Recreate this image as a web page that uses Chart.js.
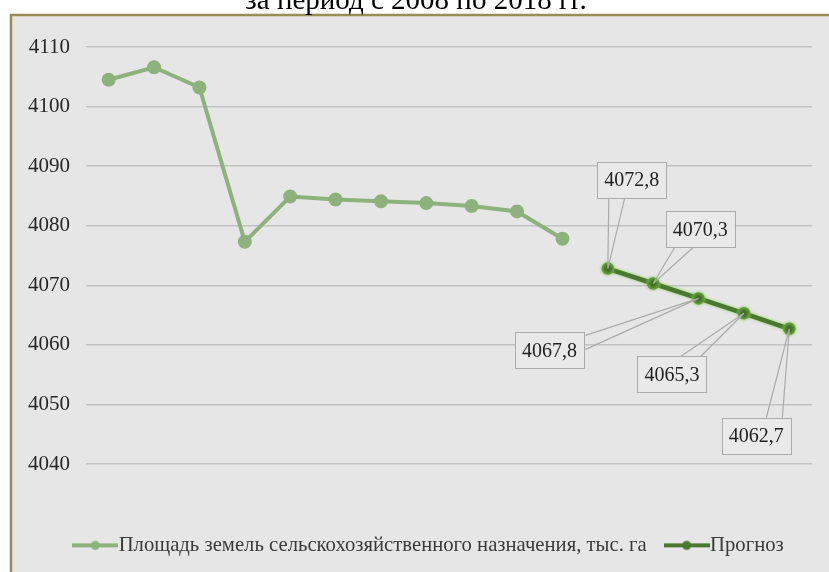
<!DOCTYPE html>
<html>
<head>
<meta charset="utf-8">
<script src="https://cdn.jsdelivr.net/npm/chart.js@4"></script>
<style>
  html, body { margin: 0; padding: 0; background: #fff; }
  #wrap { width: 829px; height: 572px; }
</style>
</head>
<body>
<div id="wrap"><canvas id="landChart" width="829" height="572"></canvas></div>
<script>
// years 2008-2018 actual, 2019-2023 forecast
const years = ['2008', '2009', '2010', '2011', '2012', '2013', '2014', '2015',
               '2016', '2017', '2018', '2019', '2020', '2021', '2022', '2023'];
const areaValues = [4104.5, 4106.6, 4103.2, 4077.3, 4084.9, 4084.4, 4084.1, 4083.8,
                    4083.3, 4082.4, 4077.8, null, null, null, null, null];
const forecastValues = [null, null, null, null, null, null, null, null,
                        null, null, null, 4072.8, 4070.3, 4067.8, 4065.3, 4062.7];
const yTicks = [4040, 4050, 4060, 4070, 4080, 4090, 4100, 4110];

const areaLabel = 'Площадь земель сельскохозяйственного назначения, тыс. га';
const forecastLabel = 'Прогноз';
const titleText = 'за период с 2008 по 2018 гг.';

const serif = "'Liberation Serif', 'Times New Roman', serif";
const lightGreen = '#8db27c';
const darkGreen = '#4a7830';

// line + marker swatch for the legend
function swatch(color) {
  const c = document.createElement('canvas');
  c.width = 46; c.height = 12;
  const g = c.getContext('2d');
  g.strokeStyle = color; g.lineWidth = 4;
  g.beginPath(); g.moveTo(0, 6); g.lineTo(46, 6); g.stroke();
  g.fillStyle = color;
  g.beginPath(); g.arc(23, 6, 4.5, 0, Math.PI * 2); g.fill();
  return c;
}

// callout boxes for forecast values: box centre offset from point,
// and the two leader anchors relative to the box centre
const callouts = {
  11: { dx: 24, dy: -89, a: [-23, 18], b: [-7, 18] },
  12: { dx: 47, dy: -54, a: [-25, 17], b: [-6, 17] },
  13: { dx: -149, dy: 52, a: [36, -15], b: [36, -1] },
  14: { dx: -72, dy: 61, a: [9, -18], b: [29, -18] },
  15: { dx: -33, dy: 107, a: [10, -18], b: [26, -18] }
};

const framePlugin = {
  id: 'frame',
  afterLayout(chart) {
    // legend sits a little right of the plot centre
    chart.legend.left += 44;
  },
  beforeDraw(chart) {
    const ctx = chart.ctx;
    ctx.save();
    ctx.fillStyle = '#ffffff';
    ctx.fillRect(0, 0, chart.width, chart.height);
    ctx.fillStyle = '#e6e6e6';
    ctx.fillRect(11, 15, chart.width - 11, chart.height - 15);
    ctx.strokeStyle = '#9a8c55';
    ctx.lineWidth = 2.5;
    ctx.beginPath();
    ctx.moveTo(11, chart.height);
    ctx.lineTo(11, 15);
    ctx.lineTo(chart.width, 15);
    ctx.stroke();
    ctx.fillStyle = '#000';
    ctx.font = '29px ' + serif;
    ctx.textAlign = 'center';
    ctx.textBaseline = 'alphabetic';
    ctx.fillText(titleText, 416, 9);
    ctx.restore();
  },
  // bright green glow around the forecast line
  beforeDatasetDraw(chart, args) {
    if (args.index !== 1) return;
    chart.ctx.save();
    chart.ctx.shadowColor = '#7fc94a';
    chart.ctx.shadowBlur = 3;
  },
  afterDatasetDraw(chart, args) {
    if (args.index !== 1) return;
    chart.ctx.restore();
  }
};

const calloutPlugin = {
  id: 'callouts',
  afterDatasetsDraw(chart) {
    const ctx = chart.ctx;
    const meta = chart.getDatasetMeta(1);
    ctx.save();
    ctx.font = '20px ' + serif;
    ctx.textAlign = 'center';
    ctx.textBaseline = 'middle';
    Object.keys(callouts).forEach(k => {
      const i = +k;
      const pt = meta.data[i];
      const c = callouts[i];
      const text = forecastValues[i].toFixed(1).replace('.', ',');
      const w = ctx.measureText(text).width + 14;
      const h = 36;
      const cx = pt.x + c.dx, cy = pt.y + c.dy;
      ctx.strokeStyle = '#ababab';
      ctx.lineWidth = 1.2;
      ctx.beginPath();
      ctx.moveTo(cx + c.a[0], cy + c.a[1]); ctx.lineTo(pt.x, pt.y);
      ctx.moveTo(cx + c.b[0], cy + c.b[1]); ctx.lineTo(pt.x, pt.y);
      ctx.stroke();
      ctx.lineWidth = 1;
      ctx.fillStyle = '#e9e9e9';
      ctx.fillRect(cx - w / 2, cy - h / 2, w, h);
      ctx.strokeRect(Math.round(cx - w / 2) + 0.5, Math.round(cy - h / 2) + 0.5, Math.round(w), h);
      ctx.fillStyle = '#222';
      ctx.fillText(text, cx, cy + 1);
    });
    ctx.restore();
  }
};

new Chart(document.getElementById('landChart').getContext('2d'), {
  type: 'line',
  data: {
    labels: years,
    datasets: [{
      label: areaLabel,
      data: areaValues,
      borderColor: lightGreen,
      backgroundColor: lightGreen,
      pointBackgroundColor: lightGreen,
      pointBorderColor: lightGreen,
      borderWidth: 4,
      pointRadius: 5,
      tension: 0,
      spanGaps: false
    }, {
      label: forecastLabel,
      data: forecastValues,
      borderColor: darkGreen,
      backgroundColor: darkGreen,
      pointBackgroundColor: '#416e29',
      pointBorderColor: '#5f9a3c',
      pointBorderWidth: 1.5,
      borderWidth: 4.5,
      pointRadius: 5.5,
      tension: 0
    }]
  },
  options: {
    responsive: false,
    animation: false,
    devicePixelRatio: 1,
    layout: { padding: { left: 10, right: 17, top: 47, bottom: 16 } },
    scales: {
      x: {
        offset: true,
        grid: { display: false },
        border: { display: false },
        ticks: { display: false },
        afterFit: s => { s.height = 44; }
      },
      y: {
        min: 4040,
        max: 4110,
        afterBuildTicks: s => { s.ticks = yTicks.map(v => ({ value: v })); },
        afterFit: s => { s.width = 76; },
        border: { display: false },
        grid: { color: '#c2c2c2', lineWidth: 1.5, drawTicks: false },
        ticks: {
          padding: 16,
          color: '#262626',
          font: { family: serif, size: 21 },
          callback: v => String(v)
        }
      }
    },
    plugins: {
      legend: {
        position: 'bottom',
        maxHeight: 48,
        labels: {
          usePointStyle: true,
          pointStyleWidth: 26,
          padding: 27,
          color: '#3a3a3a',
          font: { family: serif, size: 20.7 },
          generateLabels: chart => chart.data.datasets.map((ds, i) => ({
            text: ds.label,
            pointStyle: swatch(ds.borderColor),
            fontColor: '#3a3a3a',
            datasetIndex: i,
            hidden: false
          }))
        }
      },
      tooltip: { enabled: false }
    }
  },
  plugins: [framePlugin, calloutPlugin]
});
</script>
</body>
</html>
